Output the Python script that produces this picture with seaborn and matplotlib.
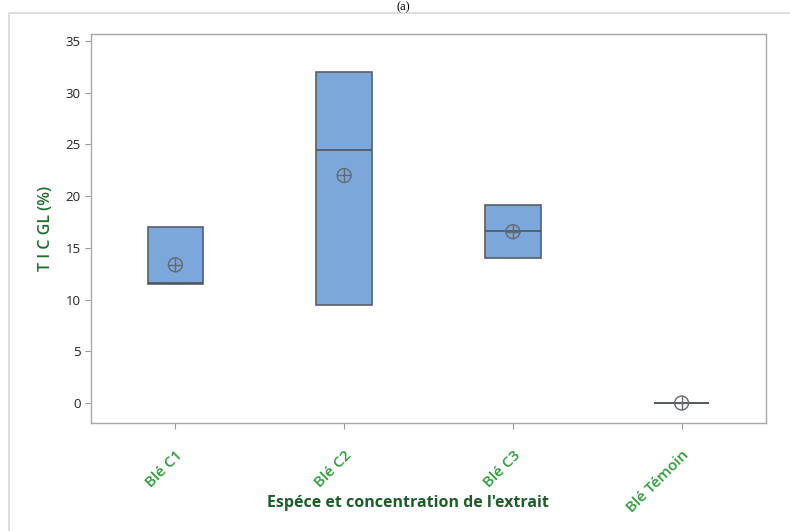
"""
plot.py

Box plot of T I C GL (%) by extract concentration.
"""

import numpy as np
import pandas as pd
import matplotlib
matplotlib.use('Agg')
import matplotlib.pyplot as plt
from matplotlib.patches import Rectangle
import seaborn as sns

#=======================================================================
#  Data (three observations per group, read from the picture)
#=======================================================================

groups = ['Blé C1', 'Blé C2', 'Blé C3', 'Blé Témoin']

vals_c1 = [11.5, 11.6, 17.0]
vals_c2 = [9.5, 24.5, 32.0]
vals_c3 = [14.0, 16.6, 19.1]
vals_tm = [0.0, 0.0, 0.0]

yticks = [0, 5, 10, 15, 20, 25, 30, 35]

data = pd.DataFrame({
    'group': np.repeat(groups, 3),
    'tic': vals_c1 + vals_c2 + vals_c3 + vals_tm,
    })

#=======================================================================
#  Summary statistics, quartiles the Minitab way
#=======================================================================

stats = []
for g in groups:
    x = data.loc[data['group'] == g, 'tic'].to_numpy()
    q1, med, q3 = np.percentile(x, [25, 50, 75], method='weibull')
    stats.append({'med': med, 'q1': q1, 'q3': q3,
                  'whislo': q1, 'whishi': q3, 'fliers': [], 'label': g})

means = data.groupby('group', sort=False)['tic'].mean().reset_index()

#=======================================================================
#  Draw the plot
#=======================================================================

sns.set_theme(style='white')
plt.rcParams['font.family'] = ['Open Sans', 'DejaVu Sans']

fig = plt.figure(figsize=(7.9, 5.31), dpi=100)
ax = fig.add_axes([91/790, 1-423/531, 675/790, 389/531])

#
#  Outer frame and the caption at the top
#

fig.patches.append(Rectangle((9/790, -0.1), 1.2, 1-13/531+0.1,
                             transform=fig.transFigure, fill=False,
                             edgecolor='#d8d8d8', linewidth=1.2))
fig.text(0.51, 1-1/531, '(a)', ha='center', va='top',
         fontsize=9, family='Liberation Serif', color='black')

#
#  Boxes
#

ax.bxp(stats, positions=range(len(groups)), widths=0.33,
       patch_artist=True, showcaps=False,
       boxprops=dict(facecolor='#7ba7da', edgecolor='#5a5f66', linewidth=1.2),
       medianprops=dict(color='#50555c', linewidth=1.2),
       whiskerprops=dict(color='#5a5f66', linewidth=1.2))

#
#  Mean symbols (circle with cross)
#

means['pos'] = range(len(groups))
sns.scatterplot(data=means, x='pos', y='tic', ax=ax, marker='o', s=100,
                facecolor='none', edgecolor='#66696e', linewidth=1.0, zorder=5)
sns.scatterplot(data=means, x='pos', y='tic', ax=ax, marker='+', s=100,
                color='#66696e', linewidth=1.0, zorder=5)

#
#  Axes and labels
#

ax.set_xlim(-0.5, 3.5)
ax.set_ylim(-1.93, 35.68)
ax.set_xticks(range(len(groups)))
ax.set_xticklabels(groups, rotation=45, ha='right', rotation_mode='anchor',
                   color='#2e9a3c', fontsize=11, fontweight='semibold')
ax.set_yticks(yticks)
ax.set_yticklabels([str(v) for v in yticks], fontsize=9.5, color='#222222')

ax.tick_params(axis='both', which='major', length=4, width=0.8,
               color='#999999', bottom=True, left=True)
ax.tick_params(axis='x', pad=14)

for s in ax.spines.values():
    s.set_color('#a8a8a8')
    s.set_linewidth(1.0)

ax.set_xlabel("Espéce et concentration de l'extrait", fontsize=11.5,
              fontweight='bold', color='#1f5c2b', labelpad=0)
ax.xaxis.set_label_coords(0.47, -0.185)
ax.set_ylabel('T I C GL (%)', fontsize=11.5, fontweight='semibold',
              color='#1f6e2e', labelpad=8)

fig.savefig('out.png', dpi=100)
